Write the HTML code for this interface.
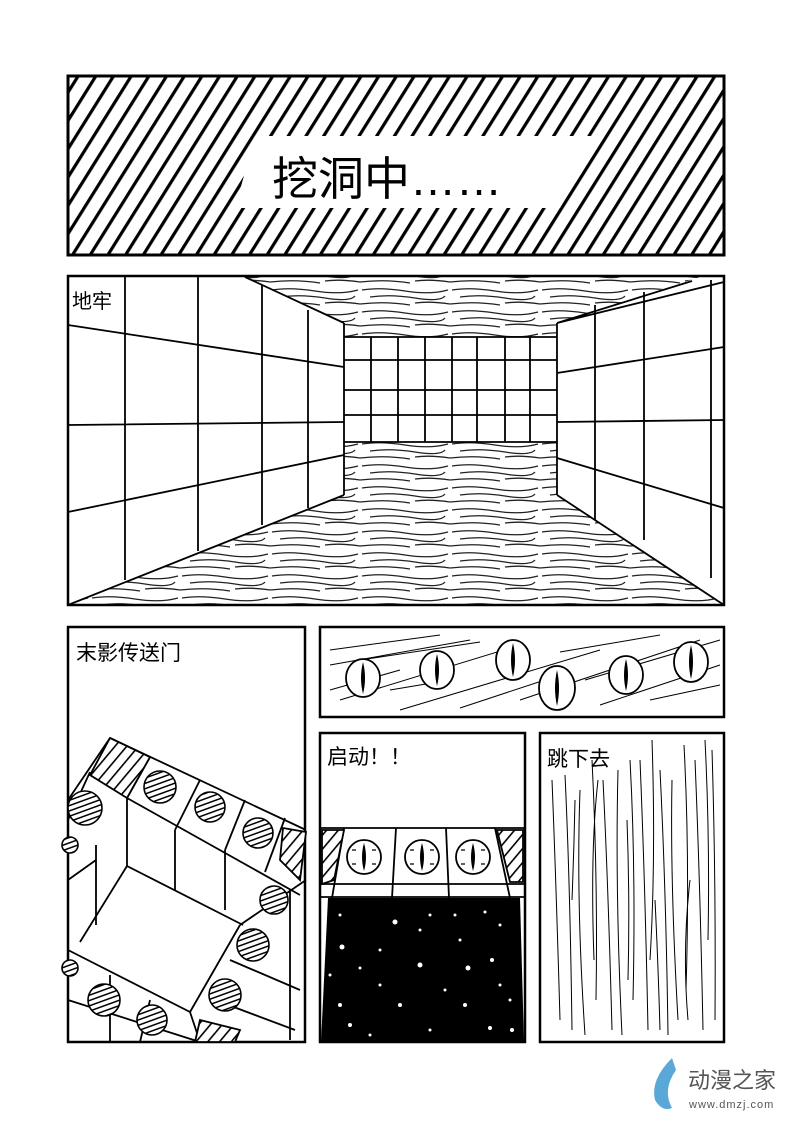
<!DOCTYPE html>
<html><head><meta charset="utf-8"><style>
html,body{margin:0;padding:0;background:#fff;}
svg{display:block;}
text{font-family:"Liberation Sans","Noto Sans CJK SC",sans-serif;}
</style></head><body>
<svg width="800" height="1126" viewBox="0 0 800 1126" xmlns="http://www.w3.org/2000/svg">
<defs>
<pattern id="hatch" width="15" height="30" patternUnits="userSpaceOnUse" patternTransform="rotate(32)">
<rect width="15" height="30" fill="#fff"/><rect x="0" y="0" width="3.2" height="30" fill="#000"/>
</pattern>
<pattern id="tex" width="90" height="22" patternUnits="userSpaceOnUse">
<rect width="90" height="22" fill="#fff"/>
<path d="M2 4Q20 1 45 5T88 4M10 11Q30 8 55 12T85 10M0 18Q25 15 50 19M55 17Q70 15 90 18" stroke="#222" stroke-width="1.3" fill="none"/>
</pattern>
<pattern id="sh" width="5" height="5" patternUnits="userSpaceOnUse" patternTransform="rotate(70)">
<rect width="5" height="5" fill="#fff"/><rect width="1.5" height="5" fill="#000"/>
</pattern>
<pattern id="sh2" width="9" height="9" patternUnits="userSpaceOnUse" patternTransform="rotate(40)">
<rect width="9" height="9" fill="#fff"/><rect width="1.6" height="9" fill="#000"/>
</pattern>
</defs>
<rect width="800" height="1126" fill="#fff"/>

<!-- Panel 1 -->
<rect x="68" y="76" width="656" height="179" fill="url(#hatch)"/>
<polygon points="255,136 600,136 560,208 235,208" fill="#fff"/>
<rect x="68" y="76" width="656" height="179" fill="none" stroke="#000" stroke-width="3"/>
<text x="272" y="195" font-size="46" fill="#000">挖洞中……</text>

<!-- Panel 2 -->
<g stroke="#000" stroke-width="1.8" fill="none">
<polygon points="245,277 700,277 557,323 344,323" fill="url(#tex)" stroke="none"/>
<rect x="344" y="323" width="213" height="14" fill="url(#tex)" stroke="none"/>
<rect x="344" y="442" width="213" height="53" fill="url(#tex)" stroke="none"/>
<polygon points="344,495 557,495 724,605 68,605" fill="url(#tex)" stroke="none"/>
<path d="M344 337H557M344 360H557M344 390H557M344 415H557M344 442H557"/>
<path d="M371 337V442M398 337V442M425 337V442M452 337V442M477 337V442M505 337V442M530 337V442"/>
<path d="M344 323V495M557 323V495"/>
<path d="M245 277L344 323M692 281L557 323M724 282L557 323M344 495L68 605M557 495L724 605"/>
<path d="M125 277V580M198 277V551M262 285V525M308 310V508"/>
<path d="M68 325L344 367M68 425L344 422M68 512L344 455"/>
<path d="M595 305V520M644 292V540M711 280V578"/>
<path d="M557 373L724 347M557 422L724 420M557 458L724 508"/>
</g>
<rect x="68" y="276" width="656" height="329" fill="none" stroke="#000" stroke-width="2.5"/>
<text x="72" y="308" font-size="20">地牢</text>

<!-- Panel 3 -->
<rect x="68" y="627" width="237" height="415" fill="#fff" stroke="#000" stroke-width="2.5"/>
<text x="76" y="660" font-size="21">末影传送门</text>
<g stroke="#000" stroke-width="1.8" fill="none">
<path d="M110 738L306 830M68 800L110 738M127 798L300 895M127 798V866L80 942M127 866L243 925"/>
<path d="M150 757L127 798M200 780L175 830M245 800L225 850M285 818L265 872M175 830V890M225 850V910"/>
<path d="M90 772L68 820M96 845V925M68 950L190 1012L200 1042M190 1012L240 925M68 1000L200 1042"/>
<path d="M240 925L306 880M230 960L300 990M215 1000L295 1030M290 890V1040M110 975V1042M150 1000L140 1042M68 880L96 860"/>
<polygon points="110,738 150,757 127,798 90,775" fill="url(#sh2)"/>
<polygon points="283,828 306,832 300,880 280,860" fill="url(#sh2)"/>
<polygon points="200,1020 240,1030 235,1042 195,1042" fill="url(#sh2)"/>
</g>
<g stroke="#000" stroke-width="1.6" fill="url(#sh)">
<circle cx="160" cy="787" r="16"/><circle cx="210" cy="807" r="15"/><circle cx="258" cy="833" r="15"/>
<circle cx="85" cy="808" r="17"/><circle cx="70" cy="845" r="8"/>
<circle cx="274" cy="900" r="14"/><circle cx="253" cy="945" r="16"/><circle cx="225" cy="995" r="16"/>
<circle cx="104" cy="1000" r="16"/><circle cx="152" cy="1020" r="15"/><circle cx="70" cy="968" r="8"/>
</g>

<!-- Panel 4 -->
<rect x="320" y="627" width="404" height="90" fill="#fff" stroke="#000" stroke-width="2.5"/>
<g stroke="#000" stroke-width="1" fill="none">
<path d="M330 650L440 635M330 665L470 640M340 700L520 645M400 710L600 650M360 660L480 642M520 700L700 640M600 705L720 665M460 708L560 675M330 690L400 670M650 700L720 685M560 652L660 635M585 680L720 640M390 690L450 680"/>
</g>
<g stroke="#000" stroke-width="1.8" fill="#fff">
<ellipse cx="363" cy="678" rx="17" ry="19"/><ellipse cx="437" cy="670" rx="17" ry="19"/><ellipse cx="513" cy="660" rx="17" ry="20"/>
<ellipse cx="557" cy="688" rx="18" ry="22"/><ellipse cx="626" cy="675" rx="17" ry="19"/><ellipse cx="691" cy="662" rx="17" ry="20"/>
</g>
<g fill="#000">
<path d="M363 662Q367 678 363 694Q359 678 363 662Z"/><path d="M437 654Q441 670 437 686Q433 670 437 654Z"/>
<path d="M513 643Q517 660 513 677Q509 660 513 643Z"/><path d="M557 670Q561 688 557 706Q553 688 557 670Z"/>
<path d="M626 659Q630 675 626 691Q622 675 626 659Z"/><path d="M691 645Q695 662 691 679Q687 662 691 645Z"/>
</g>

<!-- Panel 5 -->
<rect x="320" y="733" width="205" height="309" fill="#fff" stroke="#000" stroke-width="2.5"/>
<text x="327" y="764" font-size="21">启动！！</text>
<g stroke="#000" stroke-width="1.8" fill="none">
<path d="M320 828H525M320 884H525M320 897H525"/>
<path d="M344 828L332 898M396 828L392 898M446 828L449 898M495 828L510 898"/>
<polygon points="322,830 344,830 334,880 322,884" fill="url(#sh2)"/>
<polygon points="497,830 523,830 523,882 510,882" fill="url(#sh2)"/>
</g>
<g stroke="#000" stroke-width="1.8" fill="#fff">
<circle cx="364" cy="857" r="17"/><circle cx="422" cy="857" r="17"/><circle cx="473" cy="857" r="17"/>
</g>
<g stroke="#000" stroke-width="1.2">
<path d="M352 850h4M372 850h4M352 864h4M372 864h4M410 850h4M430 850h4M410 864h4M430 864h4M461 850h4M481 850h4M461 864h4M481 864h4"/>
</g>
<g fill="#000"><path d="M364 843Q368 857 364 871Q360 857 364 843Z"/><path d="M422 843Q426 857 422 871Q418 857 422 843Z"/><path d="M473 843Q477 857 473 871Q469 857 473 843Z"/></g>
<polygon points="328,898 520,898 524,1042 321,1042" fill="#000"/>
<g fill="#fff">
<circle cx="340" cy="915" r="1.5"/><circle cx="395" cy="922" r="2.5"/><circle cx="430" cy="915" r="1.5"/><circle cx="485" cy="912" r="1.5"/>
<circle cx="342" cy="947" r="2.5"/><circle cx="380" cy="950" r="1.5"/><circle cx="420" cy="930" r="1.5"/><circle cx="460" cy="940" r="1.5"/><circle cx="500" cy="925" r="1.5"/>
<circle cx="360" cy="968" r="1.5"/><circle cx="420" cy="965" r="2.5"/><circle cx="468" cy="968" r="2.5"/><circle cx="492" cy="960" r="2"/>
<circle cx="340" cy="1005" r="2"/><circle cx="400" cy="1005" r="2"/><circle cx="465" cy="1005" r="2"/><circle cx="510" cy="1000" r="1.5"/>
<circle cx="350" cy="1025" r="2"/><circle cx="430" cy="1030" r="1.5"/><circle cx="490" cy="1028" r="2"/><circle cx="512" cy="1030" r="2"/>
<circle cx="380" cy="985" r="1.5"/><circle cx="445" cy="990" r="1.5"/><circle cx="500" cy="985" r="1.5"/>
<circle cx="330" cy="975" r="1.5"/><circle cx="455" cy="915" r="1.5"/><circle cx="370" cy="1035" r="1.5"/>
</g>

<!-- Panel 6 -->
<rect x="540" y="733" width="184" height="309" fill="#fff" stroke="#000" stroke-width="2.5"/>
<g stroke="#000" stroke-width="1" fill="none">
<path d="M552 780Q556 880 560 1020M565 775Q570 880 572 1030M580 790Q576 900 585 1035M592 760Q598 880 596 1000M603 780Q608 880 612 1030M618 770Q615 890 622 1035M630 760Q636 870 633 1000M640 760Q645 880 648 1030M652 740Q656 860 650 960M660 770Q666 890 668 1035M672 780Q670 880 678 1020M684 745Q690 860 686 990M695 760Q700 880 703 1030M705 740Q710 840 708 940M712 750Q716 880 715 1020M575 800Q574 850 572 900M627 820Q630 900 628 980M655 900Q658 960 660 1030M598 780Q590 850 594 960M690 880Q682 950 688 1020"/>
</g>
<text x="547" y="766" font-size="21">跳下去</text>

<!-- Logo -->
<path d="M672 1058Q650 1080 655 1100Q662 1112 672 1108Q662 1090 676 1070Z" fill="#5aa8d8"/>
<text x="688" y="1088" font-size="22" fill="#555">动漫之家</text>
<text x="689" y="1108" font-size="11" fill="#555" letter-spacing="1">www.dmzj.com</text>
</svg>
</body></html>
